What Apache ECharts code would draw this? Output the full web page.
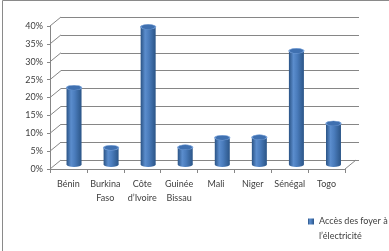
<!DOCTYPE html>
<html><head><meta charset="utf-8">
<script src="https://cdn.jsdelivr.net/npm/echarts@6/dist/echarts.min.js"></script>
<style>html,body{margin:0;padding:0;background:#fff}#c{width:389px;height:251px}</style>
</head><body><div id="c"></div>
<script>
const categories = ['Bénin', 'Burkina\nFaso', 'Côte\nd’Ivoire', 'Guinée\nBissau', 'Mali', 'Niger', 'Sénégal', 'Togo'];
const accesElectricite = [0.215, 0.047, 0.385, 0.048, 0.075, 0.076, 0.318, 0.115];
const seriesName = 'Accès des foyer à l’électricité';
const yTicks = [0, 0.05, 0.1, 0.15, 0.2, 0.25, 0.3, 0.35, 0.4];

const FONT = 'Lato';
const TXT = '#404040';
const LINE = '#868686';
const DX = 11, DY = -9;

const chart = echarts.init(document.getElementById('c'), null, {renderer: 'canvas'});
const barGrad = new echarts.graphic.LinearGradient(0, 0, 1, 0, [
  {offset: 0, color: '#2a5385'},
  {offset: 0.3, color: '#5b8dcd'},
  {offset: 0.55, color: '#4a7cbc'},
  {offset: 1, color: '#2b5587'}
]);
const yBase = {type: 'value', min: 0, max: 0.4, interval: 0.05};
chart.setOption({
  animation: false,
  backgroundColor: '#fff',
  graphic: [{type: 'rect', shape: {x: 2.5, y: 0.5, width: 420, height: 300}, style: {fill: 'none', stroke: '#8a8a8a', lineWidth: 1}, silent: true, z: 100}],
  legend: {
    data: [seriesName], left: 303, top: 194, icon: 'rect', itemWidth: 6, itemHeight: 6, itemGap: 4,
    formatter: () => ' \nAccès des foyer à\nl’électricité',
    textStyle: {fontFamily: FONT, fontSize: 9, color: TXT, lineHeight: 15}
  },
  grid: [
    {left: 50, top: 26, width: 295, height: 143},
    {left: 61, top: 17, width: 298, height: 143},
    {left: 55.5, top: 21.5, width: 296.5, height: 143}
  ],
  xAxis: [
    {gridIndex: 0, type: 'category', data: categories,
     axisLine: {show: true, lineStyle: {color: LINE}},
     axisTick: {show: true, length: 4, lineStyle: {color: LINE}},
     axisLabel: {fontFamily: FONT, fontSize: 9, color: TXT, margin: 8, lineHeight: 14, interval: 0}},
    {gridIndex: 1, type: 'category', data: categories, show: false},
    {gridIndex: 2, type: 'category', data: categories, show: false}
  ],
  yAxis: [
    Object.assign({gridIndex: 0,
     axisLine: {show: true, lineStyle: {color: LINE}},
     axisTick: {show: true, length: 3, lineStyle: {color: LINE}},
     splitLine: {show: false},
     axisLabel: {fontFamily: FONT, fontSize: 9, color: TXT, margin: 7, formatter: v => Math.round(v * 100) + '%'}}, yBase),
    Object.assign({gridIndex: 1, axisLine: {show: false}, axisTick: {show: false}, axisLabel: {show: false},
     splitLine: {show: true, lineStyle: {color: LINE, width: 1}}}, yBase),
    Object.assign({gridIndex: 2, show: false, splitLine: {show: false}}, yBase)
  ],
  series: [
    {
      type: 'custom', xAxisIndex: 0, yAxisIndex: 0, silent: true,
      data: yTicks.map(v => [v, 0]).concat([[0, 1]]),
      renderItem: (params, api) => {
        const cs = params.coordSys;
        const y = api.coord([0, api.value(0)])[1];
        const x = api.value(1) === 1 ? cs.x + cs.width : cs.x;
        return {type: 'line', shape: {x1: x, y1: y, x2: x + DX, y2: y + DY}, style: {stroke: LINE, lineWidth: 1}};
      }
    },
    {
      name: seriesName, type: 'bar', xAxisIndex: 2, yAxisIndex: 2, barWidth: 15,
      data: accesElectricite, itemStyle: {color: barGrad}, z: 3
    },
    {
      name: 'base', type: 'scatter', xAxisIndex: 2, yAxisIndex: 2, symbol: 'circle', symbolSize: [15, 5],
      data: accesElectricite.map(() => 0), itemStyle: {color: barGrad, opacity: 1}, z: 2, silent: true
    },
    {
      name: 'cap', type: 'scatter', xAxisIndex: 2, yAxisIndex: 2, symbol: 'circle', symbolSize: [15, 5],
      data: accesElectricite, itemStyle: {color: '#3f70b0', borderColor: '#7aa3da', borderWidth: 0.8, opacity: 1}, z: 4, silent: true
    }
  ]
});
</script></body></html>
